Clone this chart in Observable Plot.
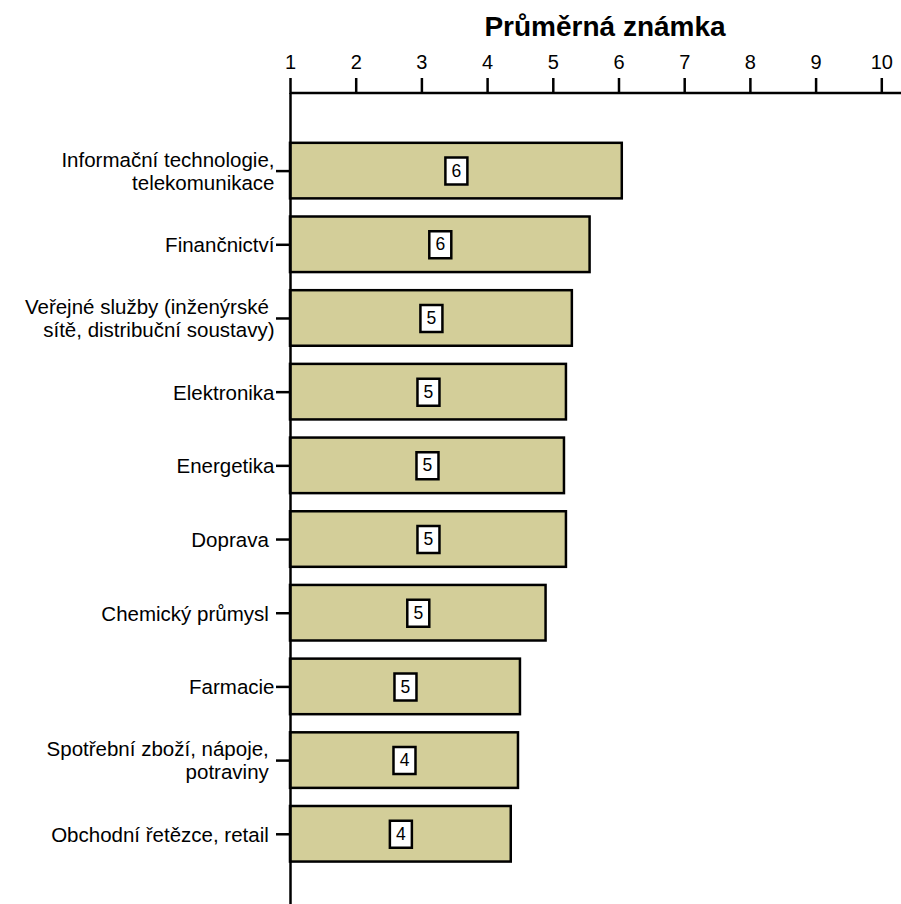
<!DOCTYPE html>
<html>
<head>
<meta charset="utf-8">
<script src="https://cdn.jsdelivr.net/npm/d3@7"></script>
<script src="https://cdn.jsdelivr.net/npm/@observablehq/plot@0.6"></script>
<style>
  html, body { margin: 0; padding: 0; background: #fff; }
  #chart svg { display: block; font-family: "Liberation Sans", Arial, sans-serif; }
</style>
</head>
<body>
<div id="chart"></div>
<script>
const categories = [
  "Informační technologie,\ntelekomunikace",
  "Finančnictví",
  "Veřejné služby (inženýrské\u00a0\nsítě, distribuční soustavy)",
  "Elektronika",
  "Energetika",
  "Doprava\u00a0",
  "Chemický průmysl\u00a0",
  "Farmacie",
  "Spotřební zboží, nápoje,\u00a0\npotraviny\u00a0",
  "Obchodní řetězce, retail\u00a0"
];
const values = [6.05, 5.56, 5.29, 5.20, 5.17, 5.20, 4.89, 4.50, 4.47, 4.36];
const valueLabels = ["6", "6", "5", "5", "5", "5", "5", "5", "4", "4"];
const xTicks = [1, 2, 3, 4, 5, 6, 7, 8, 9, 10];
const title = "Průměrná známka";

const data = categories.map((c, i) => ({
  cat: c, value: values[i], label: valueLabels[i], mid: (1 + values[i]) / 2
}));

const boxSymbol = {
  draw(ctx) { ctx.rect(-11, -13.5, 22, 27); }
};

const plot = Plot.plot({
  width: 901,
  height: 904,
  marginLeft: 290,
  marginRight: 0,
  marginTop: 93,
  marginBottom: 0,
  style: { fontFamily: "'Liberation Sans', Arial, sans-serif", color: "#000", background: "#fff" },
  x: { domain: [1, 10.3], axis: null },
  y: { domain: categories, paddingInner: 0.246, paddingOuter: 0.626, align: 0.54, round: false, axis: null },
  marks: [
    Plot.barX(data, { y: "cat", x1: 1, x2: "value", fill: "#d3ce99", stroke: "#000", strokeWidth: 2.5 }),
    Plot.dot(data, { y: "cat", x: "mid", symbol: boxSymbol, fill: "#fff", stroke: "#000", strokeWidth: 2.5 }),
    Plot.text(data, { y: "cat", x: "mid", text: "label", fontSize: 17.5, fill: "#000" }),
    Plot.ruleX([1], { stroke: "#000", strokeWidth: 2.5 }),
    Plot.axisX({ anchor: "top", ticks: xTicks, tickFormat: d => String(d), tickSize: 16, tickPadding: 9, fontSize: 20, strokeWidth: 2.5, label: null }),
    Plot.axisY({ anchor: "left", tickSize: 14, tickPadding: 2, fontSize: 20.5, lineHeight: 1.12, strokeWidth: 2.5, label: null }),
    Plot.text([title], { frameAnchor: "top", lineAnchor: "middle", dx: 9, dy: -66, fontSize: 28, fontWeight: "bold", fill: "#000" })
  ]
});

// top axis line drawn across the x scale range
const xs = plot.scale("x");
d3.select(plot).append("line")
  .attr("x1", xs.range[0]).attr("x2", 901)
  .attr("y1", 93).attr("y2", 93)
  .attr("stroke", "#000").attr("stroke-width", 2.5);

document.getElementById("chart").appendChild(plot);
</script>
</body>
</html>
